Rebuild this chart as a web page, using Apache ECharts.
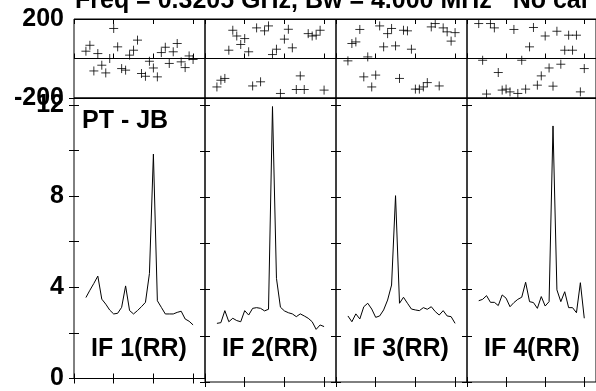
<!DOCTYPE html>
<html>
<head>
<meta charset="utf-8">
<script src="https://cdn.jsdelivr.net/npm/echarts@6/dist/echarts.min.js"></script>
<style>
html,body{margin:0;padding:0;background:#fff;}
#chart{width:596px;height:391px;}
</style>
</head>
<body>
<div id="chart"></div>
<script>
// ---- data ----
const titleText = 'Freq = 0.3205 GHz, Bw = 4.000 MHz   No cal';
const baselineLabel = 'PT - JB';
const ifLabels = ['IF 1(RR)', 'IF 2(RR)', 'IF 3(RR)', 'IF 4(RR)'];
const channels = [3,4,5,6,7,8,9,10,11,12,13,14,15,16,17,18,19,20,21,22,23,24,25,26,27,28,29,30];
const xTicks = [0, 10, 20, 30];
const phaseTicks = [-200, 0, 200];
const ampTicks = [0, 4, 8, 12];

const amp1 = [3.55,3.87,4.17,4.49,3.48,3.26,3.00,2.83,2.86,3.12,4.06,2.98,2.83,2.98,3.15,3.34,4.60,9.84,3.41,3.12,2.83,2.83,2.83,2.90,2.95,2.61,2.51,2.35];
const amp2 = [2.54,2.57,3.09,2.61,2.76,2.66,2.61,3.09,2.90,3.19,3.22,3.19,3.08,3.15,11.93,4.49,3.24,3.08,3.00,2.95,2.83,2.95,2.86,2.76,2.61,2.28,2.47,2.40];
const amp3 = [2.86,2.61,2.95,2.73,3.26,3.41,3.16,2.80,2.86,3.12,3.55,4.20,8.07,3.41,3.67,3.41,3.16,3.12,3.09,3.22,3.15,3.26,3.05,2.90,3.09,2.86,2.83,2.54];
const amp4 = [3.52,3.58,3.74,3.45,3.45,3.31,3.77,3.63,3.26,3.44,3.58,3.67,4.32,3.48,3.44,3.19,3.70,3.29,3.48,11.09,3.99,3.48,3.91,3.22,3.22,3.00,4.30,2.76];

const phase1 = [37,67,-63,25,-34,-73,0,152,59,-51,-59,17,42,93,-76,-90,-14,-48,-93,30,57,-25,34,76,-17,-46,13,-5];
const phase2 = [-144,-110,-101,42,143,114,71,101,34,-139,155,-118,140,165,20,47,-177,98,148,54,-157,-88,-157,126,114,118,143,-160];
const phase3 = [-12,76,84,147,-93,8,-144,-84,165,59,126,152,64,-101,143,140,47,-155,-155,-144,-122,160,177,-139,155,135,88,131];
const phase4 = [177,-9,-180,177,155,-71,-160,-155,-169,147,-177,-9,-155,59,157,-135,-88,114,-48,-140,138,-29,42,118,42,118,-169,-51];

const amps = [amp1, amp2, amp3, amp4];
const phases = [phase1, phase2, phase3, phase4];

// ---- layout ----
const FONT = 'Liberation Sans, Arial, sans-serif';
const panelLeft0 = 74, panelW = 131;
const phaseTop = 19, phaseH = 79;
const ampTop = 98, ampH = 284;
const ampMax = 12.3;

const chart = echarts.init(document.getElementById('chart'), null, {renderer: 'canvas'});

const grids = [], xAxes = [], yAxes = [], series = [];
const tickStyle = {show: true, inside: true, length: 5, lineStyle: {color: '#000', width: 1}};
const labelStyle = {color: '#000', fontFamily: FONT, fontWeight: 'bold', fontSize: 25, margin: 10, padding: [5, 0, 0, 0]};

function addX(gridIndex, position) {
  xAxes.push({
    type: 'value', gridIndex, position, min: 0, max: 33, interval: 10,
    axisLine: {show: false}, axisTick: tickStyle, axisLabel: {show: false}, splitLine: {show: false}
  });
  return xAxes.length - 1;
}

for (let i = 0; i < 4; i++) {
  const left = panelLeft0 + i * panelW;
  grids.push({left, top: phaseTop, width: panelW, height: phaseH, show: true, borderColor: '#000', borderWidth: 1, containLabel: false});
  grids.push({left, top: ampTop, width: panelW, height: ampH, show: true, borderColor: '#000', borderWidth: 1, containLabel: false});
}

for (let i = 0; i < 4; i++) {
  const gP = 2 * i, gA = 2 * i + 1;
  // phase
  const xp = addX(gP, 'bottom'); addX(gP, 'top');
  yAxes.push({
    type: 'value', gridIndex: gP, min: phaseTicks[0], max: phaseTicks[2], interval: 200,
    axisLine: {show: false}, axisTick: {show: false},
    axisLabel: Object.assign({}, labelStyle, {show: i === 0, formatter: v => (v === 0 ? '' : String(v))}),
    splitLine: {show: true, lineStyle: {color: '#000', width: 1}}
  });
  const yp = yAxes.length - 1;
  // amplitude
  const xa = addX(gA, 'bottom'); addX(gA, 'top');
  yAxes.push({
    type: 'value', gridIndex: gA, position: 'left', min: 0, max: ampMax, interval: 2,
    axisLine: {show: false}, axisTick: tickStyle,
    axisLabel: Object.assign({}, labelStyle, {show: i === 0, formatter: v => (ampTicks.indexOf(v) >= 0 ? String(v) : '')}),
    splitLine: {show: false}
  });
  const ya = yAxes.length - 1;
  yAxes.push({
    type: 'value', gridIndex: gA, position: 'right', min: 0, max: ampMax, interval: 2,
    axisLine: {show: false}, axisTick: tickStyle, axisLabel: {show: false}, splitLine: {show: false}
  });

  series.push({
    type: 'scatter', xAxisIndex: xp, yAxisIndex: yp,
    data: channels.map((c, k) => [c, phases[i][k]]),
    symbol: 'path://M5,0L5,10M0,5L10,5', symbolSize: 9,
    itemStyle: {color: 'transparent', borderColor: '#000', borderWidth: 1},
    silent: true
  });
  series.push({
    type: 'line', xAxisIndex: xa, yAxisIndex: ya,
    data: channels.map((c, k) => [c, amps[i][k]]),
    showSymbol: false, symbol: 'none',
    lineStyle: {color: '#000', width: 1},
    silent: true
  });
}

const graphics = [
  {type: 'text', x: 75, y: 1.5, silent: true,
   style: {text: titleText, font: 'bold 25px ' + FONT, fill: '#000', verticalAlign: 'middle', align: 'left'}},
  {type: 'text', x: 82, y: 121, silent: true,
   style: {text: baselineLabel, font: 'bold 25px ' + FONT, fill: '#000', verticalAlign: 'middle', align: 'left'}}
];
ifLabels.forEach((t, i) => {
  graphics.push({type: 'text', x: panelLeft0 + i * panelW + 17, y: 349, silent: true,
    style: {text: t, font: 'bold 25px ' + FONT, fill: '#000', verticalAlign: 'middle', align: 'left'}});
});

chart.setOption({
  animation: false,
  backgroundColor: '#fff',
  grid: grids,
  xAxis: xAxes,
  yAxis: yAxes,
  series,
  graphic: graphics
});
</script>
</body>
</html>
